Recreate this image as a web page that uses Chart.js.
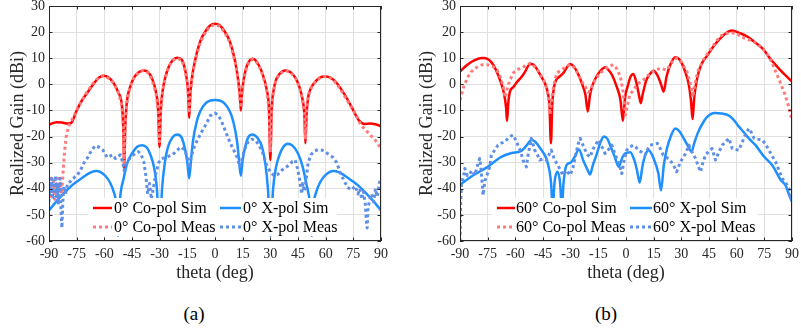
<!DOCTYPE html>
<html>
<head>
<meta charset="utf-8">
<script src="https://cdn.jsdelivr.net/npm/chart.js@4.4.1/dist/chart.umd.min.js"></script>
<style>
  body { margin: 0; background: #fff; width: 801px; height: 334px; position: relative; overflow: hidden; }
  canvas { position: absolute; top: 0; }
  .cap { position: absolute; top: 303px; width: 60px; margin-left: -30px; text-align: center;
         font: 19px "Liberation Serif", serif; color: #000; }
</style>
</head>
<body>
<canvas id="chartA" width="400" height="290" style="left:0"></canvas>
<canvas id="chartB" width="401" height="290" style="left:400px"></canvas>
<div class="cap" style="left:194px">(a)</div>
<div class="cap" style="left:606px">(b)</div>
<script>
// axis ranges
var thetaRange = [-90, 90, 15];
var gainRange = [-60, 30, 10];

// (a) 0 deg scan
var thetaA_coSim = [-90,-86,-83,-80,-78,-75,-72,-69,-66,-63,-60.5,-58,-55,-52.5,-50.5,-49.7,-49.2,-48.7,-47.8,-46,-44,-41,-38.7,-36,-34,-32,-30.8,-30.1,-29.4,-28.5,-27,-25,-23,-20.5,-18,-16.5,-15,-14.5,-14,-13.4,-12.5,-11,-8,-5,-2.5,0,2.5,5,8,11,12.5,13.4,14,14.6,15.5,17,19,20.3,22,24,26,28,29.3,30,30.7,31.6,33,35,38,41,44,46,47.5,48.5,49,49.6,50.5,52,55,58,60,63,66,69,72,75,78,81,84,87,90];
var gainA_coSim = [-15.5,-14.5,-14.6,-15,-14.8,-10,-6,-3,0,2.5,3.3,2.8,0.5,-3,-8,-17,-33,-17,-7,-1,2.5,4.8,5.3,4.5,2,-3,-10,-24,-10,-3,2.5,6.8,9.2,10.2,9.4,6.5,0.5,-4,-12.9,-4,2.5,8.5,16.5,20.5,22.6,23.2,22.6,20.5,16.5,8.5,2,-3.5,-10,-3.5,1.5,6.5,9.3,9.8,9.2,7,3.5,-2,-10,-29,-10,-3,1.5,4,5.3,4.6,2,-1.5,-6,-12,-22.6,-12,-5,-1.5,1.5,2.9,3,2.4,0.5,-2.5,-6,-10,-13.8,-15.2,-15,-15.3,-16];

var thetaA_coMeas = [-90,-89.4,-88.8,-88.2,-87.6,-87,-86.4,-85.8,-85.2,-84.6,-84,-83.2,-82.4,-81.6,-80.5,-79,-77.5,-75,-72,-69,-66,-63,-60.5,-58,-55,-52.5,-50.5,-49.7,-49.2,-48.7,-47.8,-46,-44,-41,-38.7,-36,-34,-32,-30.8,-30.1,-29.4,-28.5,-27,-25,-23,-20.5,-18,-16.5,-15,-14.5,-14,-13.4,-12.5,-11,-8,-5,-2.5,0,2.5,5,8,11,12.5,13.4,14,14.6,15.5,17,19,20.3,22,24,26,28,29.3,30,30.7,31.6,33,35,38,41,44,46,47.5,48.5,49,49.6,50.5,52,55,58,60,63,66,69,72,75,77,79,81,83,85,87,89,90];
var gainA_coMeas = [-38,-43,-36,-41,-37,-44,-38,-42,-36,-40,-38,-42,-34,-26,-19,-15.5,-13.5,-10,-6,-2.5,0.5,2.7,3.2,2.5,0.5,-3,-8,-16,-30,-16,-7,-1,2.5,4.8,5.3,4.3,1.5,-3.5,-10,-22,-10,-3,2.5,6.8,9.2,10,9.2,6.3,0.5,-4,-11,-4,2.5,8.3,16.2,20.2,22.3,22.8,22.3,20.2,16.2,8.3,2,-3.5,-9,-3.5,1.5,6.3,9.1,9.6,9,6.8,3.3,-2,-10,-26,-10,-3,1.5,4,5.3,4.6,2,-1.5,-6,-11,-21,-11,-5,-1.5,1.5,2.9,3,2.4,0.2,-3,-6.5,-10,-12.5,-15.5,-17,-18.5,-20,-21.5,-23.5,-24.5];

var thetaA_xSim = [-90,-86,-82,-78,-74,-70,-67,-64.5,-62,-59.5,-57,-55,-53.5,-52.5,-51.5,-49.5,-47.5,-45,-42,-39.5,-37,-35,-33,-31.5,-30.1,-28.7,-27.2,-25.5,-23,-20.5,-18,-16.2,-15,-14,-13,-12,-10,-8,-5,-2.5,0,2.5,5,8,10,12,13,14,15,16.2,18,20.3,23,25.5,27.2,28.7,30,31.5,33,35,37,39.5,42,45,47.5,49.5,51.5,52.5,53.5,55,57,59.5,62,64.5,67,70,74,78,82,86,90];
var gainA_xSim = [-48.3,-44.8,-41.8,-39,-36.8,-34.8,-33.6,-33.2,-33.6,-35,-37.5,-41,-46,-58,-44,-36,-30,-26.5,-23.8,-23.3,-24.2,-27,-32,-40,-58,-40,-30,-24,-20.3,-19.2,-20.5,-25,-30,-36,-29,-22,-14.5,-10.3,-7.2,-6.2,-6,-6.2,-7.2,-10.3,-14.5,-22,-29,-35,-29,-24.5,-20.3,-19.2,-20.5,-24,-30,-40,-58,-40,-32,-27,-24,-22.8,-23.5,-26.5,-31.5,-38,-46,-58,-46,-41,-37.5,-35,-33.6,-33.2,-33.6,-34.8,-36.8,-39,-41.8,-44.8,-48.3];

var thetaA_xMeas = [-90,-89.5,-89,-88.5,-88,-87,-86.5,-86,-85.5,-85,-84.5,-84,-83.5,-83,-82.5,-82,-81,-80,-78,-76,-74.8,-73,-71,-69,-67.5,-65,-63,-61,-60,-58.5,-57,-55.5,-54,-52.5,-51.3,-50,-49.3,-48.5,-47,-45,-43,-41.5,-40,-38.5,-37.5,-36.5,-35.5,-34.5,-33.5,-32,-30.5,-29,-27,-25,-23,-21,-18.5,-16.5,-15,-14,-13,-11.5,-10,-7.5,-5,-2.5,0,2,4,6,8,10,12,13.5,14.5,16,18,20,22,24,26,28,30,32,34,36,38,40,42,43.5,45,46,47,47.5,48.5,49.5,50.5,52,54,56,58,60,62,64,66,68,70,72,74,76,77.5,78.5,79.5,80.5,81.5,82,82.5,83,84,85,86,87,88,89,90];
var gainA_xMeas = [-45,-38,-42,-36,-44,-40,-35,-43,-38,-46,-40,-36,-48,-55,-45,-39,-42,-38,-37,-35.5,-35,-33,-30,-28,-26,-23.5,-24,-25,-26,-28,-27.5,-27,-28.4,-27.5,-27,-30,-33,-31,-29,-27.5,-26.3,-25.8,-27,-30,-35,-42,-38,-44,-40,-34,-30,-28.5,-28,-27.5,-27,-25.5,-24,-25,-28,-32,-28,-24.5,-22,-18.5,-15.5,-12,-11,-12,-15,-18.5,-22,-25,-28,-31.5,-29,-25,-22,-21,-21.5,-23.5,-26.5,-31,-33.5,-35,-34.5,-33,-32,-31,-29.5,-29,-33,-37,-42,-38,-41,-36,-30,-27,-25.5,-25,-25.2,-26,-27,-28,-30,-34,-37,-39.5,-40.5,-39,-42,-40,-44,-41,-46,-52,-55,-47,-44,-42,-45,-40,-43,-38,-36];

// (b) 60 deg scan
var thetaB_coSim = [-90,-86,-82,-78,-76,-73,-70.5,-68,-66,-65,-64.5,-63.8,-63,-61,-59,-57,-55,-52,-50,-48,-46,-44,-42.5,-41.5,-40.7,-40,-39,-38,-36,-34,-32,-30.3,-28.5,-26,-24,-22,-20.7,-19.5,-18,-16,-14,-11.3,-9.5,-7.5,-5,-3,-1.7,-0.5,1,2.5,4,5.5,7,8,9,11,13,15,17,19,20.4,22,24,26.7,29,32,34,35.2,36.1,37,38.5,40.5,44,47.5,51,54,57.4,61,65.5,70,74.6,78,81.8,85,90];
var gainB_coSim = [4.9,7.5,9.3,10.1,10,8.5,5.5,1,-4,-9,-14,-7,-3,-1,1,2.5,4.5,7.8,7.5,5.5,3,0.5,-3,-8,-22.6,-8,-1,1.5,3,4.3,6.5,7.8,7,4,0.5,-4,-10.4,-4,0,3,5,6.5,5.5,3.5,-1,-6,-14,-5,-0.5,3,4,1,-4,-7.2,-4,1.5,4,5.2,3.5,0,-2.8,3,7.5,10.4,9.5,5,0,-6,-13.3,-5,2,7,11,14.6,17.5,19.5,20.6,19.8,18.4,16,13.3,10,6.9,4.5,1.1];

var thetaB_coMeas = [-90,-88,-86,-84,-81,-78,-75,-72,-70,-68,-66.5,-65.5,-64.5,-63,-61,-59,-56,-52,-49,-46.5,-44.8,-43,-42,-41.2,-40.3,-39.3,-37.6,-35,-32,-30.3,-28,-26,-24,-22,-20.5,-19.5,-18,-16,-14,-11,-8,-6.8,-5,-3.1,-1.5,-0.3,0.8,2,4.1,6,9.5,12,15,18.6,20.5,22.2,24,26,27.6,30,33,35,36.2,37.5,39,42,45,48,51,54,57.4,60,63,66,69.1,72,74.6,77,79,82,84,86,88,90];
var gainB_coMeas = [-6,-1,2.5,4.8,6.5,7.5,7.5,6.8,5.5,2.5,-1,-5,-2,1.5,4.5,5.6,6.5,8.1,6.5,4,1.7,-1.5,-5,-11.5,-6,-1,4.3,5.5,7,7.5,6.5,4,1.1,-1,-3,-2.5,0,2.5,4.3,6,7.2,7.5,6,3,-3,-11.7,-8,-4,-2.1,0,1.7,3.5,5,6.2,5.8,5.6,7.5,9.5,10.1,8.5,4.9,0,-5,0.5,5,9.4,12.5,15.5,18.4,19.5,19.7,19.5,18,17.2,16.5,15,13.3,11,8.5,3.5,0,-3.5,-8,-14];

var thetaB_xSim = [-90,-84,-75,-67.6,-62,-57,-54,-51.3,-49.5,-47.7,-45.5,-43.2,-41.5,-40.6,-39.7,-38.8,-37.2,-35.7,-34.8,-33.9,-32.3,-30,-28,-25.5,-23,-21,-19.5,-18,-16,-14,-12,-10,-8.6,-6,-4,-2,-0.5,2.3,4.5,6,7.4,9,10.5,12.3,15,17.5,19,20.5,22.2,24.5,26.7,29,31.3,33.5,35.5,37,39,41.5,44,48,52,55,58,61,64,67,70.2,75,79.3,84,86.5,88,90];
var gainB_xSim = [-38.5,-35.4,-31.6,-27.8,-26.3,-25.6,-23.5,-21.3,-21.8,-23.3,-25.5,-28.4,-33,-38,-48,-38,-33.5,-38,-48,-38,-31,-30,-28,-25,-29.5,-32.5,-34.5,-31,-27,-22.5,-20,-21,-23.3,-28,-31.6,-28,-26.5,-26,-29,-33,-37.6,-31,-27,-25.2,-28.4,-34,-40.6,-31,-24.6,-19.5,-16.9,-18,-20.7,-23.5,-25.8,-22.5,-18.5,-15,-12.5,-11,-11.2,-11.7,-13.3,-16,-18.5,-21,-23.3,-27.8,-31,-36.7,-38.7,-41.5,-45];

var thetaB_xMeas = [-90,-89.6,-89.2,-88,-87.4,-86,-84.7,-83.5,-82,-80.5,-79.3,-78.5,-77.5,-76.5,-75,-73.9,-73,-71,-69.4,-67.5,-65.8,-63.1,-61.3,-60,-58.6,-57,-55.9,-54,-53.1,-51.3,-49.5,-48,-46.8,-45,-43.2,-40.5,-38.7,-36.9,-34.2,-32.4,-30.3,-28.8,-27.5,-26,-24.8,-23.5,-22.1,-20.8,-19.4,-18,-16.7,-14.9,-13,-11.3,-9.5,-7.7,-6.3,-5,-3.5,-2.3,-1,0.4,2,4,5.3,6.7,8.5,10.3,11.7,13,15,17,18.5,20.2,22,23.9,25.8,27.5,29.3,31.1,32.3,34.1,35.9,37.7,39,40.4,41.7,43.1,45,46.7,48.5,50.3,52.2,54,55.8,57.6,59.4,61.2,62.5,63.9,65.3,66.6,68,69.4,71.5,73.9,75.7,77.5,79.3,81.1,83,84.7,86.5,88.3,89,90];
var gainB_xMeas = [-60,-45,-38,-35,-32.2,-35,-34.2,-33,-34.8,-31,-28.4,-33,-42.5,-37,-34,-31.6,-27.1,-25,-23.3,-22.5,-22,-20.1,-19.4,-21,-23.3,-26,-29,-31.6,-27.1,-20.7,-25.2,-27,-29,-28.5,-29,-25.2,-29,-31,-34.8,-32.9,-34.8,-32,-27.8,-23,-20.7,-23,-25.2,-27,-27.8,-25,-23.3,-21.3,-24,-26.5,-25,-23.3,-26,-28.4,-31,-34.2,-29,-25.2,-24,-23.3,-24,-25.2,-26,-27.1,-25,-23.3,-23,-22.6,-24.5,-27.1,-28,-29,-31,-33.5,-30,-27.8,-26.5,-23.3,-26,-28.4,-31,-33.5,-30,-27.1,-25.5,-24.6,-29,-26,-23.3,-22,-20.7,-24.6,-25,-25.2,-23,-20.7,-18.5,-16.9,-18.5,-20.7,-21,-21.3,-23,-25.2,-27.5,-29.7,-33,-36.1,-37.5,-39.9,-44,-42.5];

var labelsA = ['0° Co-pol Sim', '0° X-pol Sim', '0° Co-pol Meas', '0° X-pol Meas'];
var labelsB = ['60° Co-pol Sim', '60° X-pol Sim', '60° Co-pol Meas', '60° X-pol Meas'];

var serif = '"Liberation Serif", serif';
var ink = '#262626';
Chart.defaults.font.family = serif;

// line looks: co sim, x sim, co meas, x meas
var looks = [
  {color: '#ff0000', width: 2.5, dash: [], smooth: true},
  {color: '#1e8fff', width: 2.5, dash: [], smooth: true},
  {color: '#ff7a7a', width: 3, dash: [3, 3], smooth: false},
  {color: '#5e8fe6', width: 3, dash: [3, 3], smooth: false}
];

function pts(xs, ys) {
  return xs.map(function (x, i) { return {x: x, y: ys[i]}; });
}

// frame, inward ticks and the in-axes legend
var framePlugin = {
  id: 'frame',
  afterDatasetsDraw: function (chart, args, opts) {
    var ctx = chart.ctx, a = chart.chartArea;
    var sx = chart.scales.x, sy = chart.scales.y;
    ctx.save();

    // legend box
    var L = opts.legend;
    ctx.fillStyle = '#fff';
    ctx.fillRect(L.box[0], L.box[1], L.box[2] - L.box[0], L.box[3] - L.box[1]);
    ctx.font = '16px ' + serif;
    ctx.textBaseline = 'middle';
    ctx.textAlign = 'left';
    chart.data.datasets.forEach(function (ds, i) {
      var col = L.cols[i % 2], row = L.rows[Math.floor(i / 2)];
      ctx.strokeStyle = ds.borderColor;
      ctx.lineWidth = ds.borderWidth;
      ctx.setLineDash(ds.borderDash);
      ctx.beginPath();
      ctx.moveTo(col[0], row);
      ctx.lineTo(col[1], row);
      ctx.stroke();
      ctx.setLineDash([]);
      ctx.fillStyle = '#000';
      ctx.fillText(ds.label, col[2], row + 1);
    });

    // axes box + ticks pointing in
    ctx.strokeStyle = ink;
    ctx.lineWidth = 1;
    ctx.beginPath();
    sx.ticks.forEach(function (t) {
      var p = Math.round(sx.getPixelForValue(t.value)) + 0.5;
      ctx.moveTo(p, a.bottom); ctx.lineTo(p, a.bottom - 3.5);
      ctx.moveTo(p, a.top); ctx.lineTo(p, a.top + 3.5);
    });
    sy.ticks.forEach(function (t) {
      var p = Math.round(sy.getPixelForValue(t.value)) + 0.5;
      ctx.moveTo(a.left, p); ctx.lineTo(a.left + 3.5, p);
      ctx.moveTo(a.right, p); ctx.lineTo(a.right - 3.5, p);
    });
    ctx.stroke();
    ctx.strokeRect(Math.round(a.left) + 0.5, Math.round(a.top) + 0.5,
                   Math.round(a.width) - 1, Math.round(a.height) - 1);
    ctx.restore();
  }
};

function buildChart(id, sets, labels, box) {
  var datasets = sets.map(function (s, i) {
    var lk = looks[i];
    return {
      label: labels[i],
      data: pts(s[0], s[1]),
      borderColor: lk.color,
      borderWidth: lk.width,
      borderDash: lk.dash,
      borderCapStyle: 'butt',
      borderJoinStyle: 'round',
      pointRadius: 0,
      fill: false,
      tension: lk.smooth ? 0.4 : 0,
      cubicInterpolationMode: lk.smooth ? 'monotone' : 'default',
      order: 4 - i
    };
  });

  return new Chart(document.getElementById(id), {
    type: 'line',
    data: {datasets: datasets},
    plugins: [framePlugin],
    options: {
      responsive: false,
      animation: false,
      events: [],
      layout: {padding: {top: 6, right: box.right, left: 0, bottom: 0}},
      plugins: {
        legend: {display: false},
        tooltip: {enabled: false},
        frame: {legend: box.legend}
      },
      scales: {
        x: {
          type: 'linear',
          min: thetaRange[0], max: thetaRange[1],
          ticks: {stepSize: thetaRange[2], autoSkip: false, maxRotation: 0, padding: 5,
                  color: ink, font: {size: 14, family: serif}},
          grid: {color: '#e0e0e0', drawTicks: false},
          border: {display: false},
          title: {display: true, text: 'theta (deg)', color: ink,
                  font: {size: 18, family: serif}, padding: {top: 6, bottom: 6}},
          afterFit: function (s) {
            s.height = 49;
            s.paddingLeft = 0; s.paddingRight = 0;
          }
        },
        y: {
          min: gainRange[0], max: gainRange[1],
          ticks: {stepSize: gainRange[2], padding: 4, color: ink, font: {size: 14, family: serif}},
          grid: {color: '#e0e0e0', drawTicks: false},
          border: {display: false},
          title: {display: true, text: 'Realized Gain (dBi)', color: ink,
                  font: {size: 18, family: serif}, padding: {top: box.titlePad, bottom: 0}},
          afterFit: function (s) {
            s.width = box.left;
            s.paddingTop = 0; s.paddingBottom = 0;
          }
        }
      }
    }
  });
}

buildChart('chartA',
  [[thetaA_coSim, gainA_coSim], [thetaA_xSim, gainA_xSim],
   [thetaA_coMeas, gainA_coMeas], [thetaA_xMeas, gainA_xMeas]],
  labelsA,
  {left: 49, right: 19, titlePad: 7,
   legend: {box: [88, 198, 337, 236], rows: [208, 227], cols: [[93, 112, 114], [220, 241, 243]]}});

buildChart('chartB',
  [[thetaB_coSim, gainB_coSim], [thetaB_xSim, gainB_xSim],
   [thetaB_coMeas, gainB_coMeas], [thetaB_xMeas, gainB_xMeas]],
  labelsB,
  {left: 60, right: 9, titlePad: 16,
   legend: {box: [92, 198, 358, 236], rows: [208, 227], cols: [[97, 115, 116], [230, 252, 253]]}});
</script>
</body>
</html>
